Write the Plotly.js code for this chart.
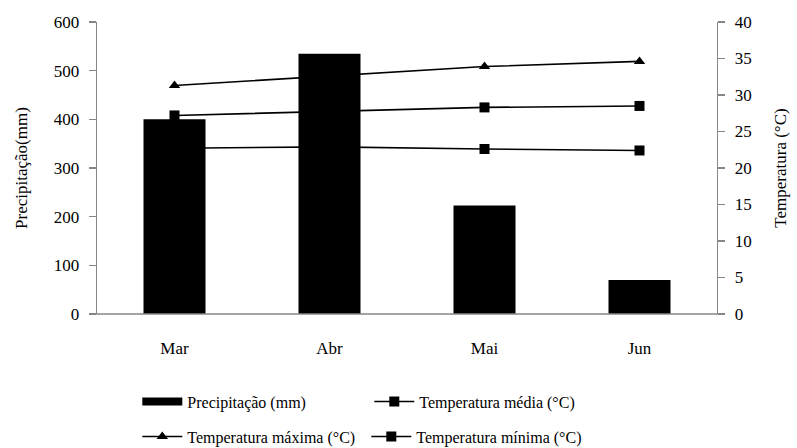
<!DOCTYPE html>
<html>
<head>
<meta charset="utf-8">
<script src="https://cdn.plot.ly/plotly-3.0.1.min.js"></script>
<style>html,body{margin:0;padding:0;background:#fff;}#chart{width:797px;height:448px;}</style>
</head>
<body>
<div id="chart"></div>
<script>
const months = ["Mar", "Abr", "Mai", "Jun"];
const precipitacao = [400, 535, 223, 70];
const tempMedia = [27.2, 27.7, 28.3, 28.5];
const tempMaxima = [31.3, 32.6, 33.9, 34.6];
const tempMinima = [22.7, 22.9, 22.6, 22.4];

const FONT = "Liberation Serif";
const AX = "#868686";

const traces = [
  {type: "bar", x: months, y: precipitacao, name: "Precipitação (mm)",
   marker: {color: "#000"}, width: 0.4, showlegend: false, yaxis: "y"},
  {type: "scatter", mode: "lines", x: [null], y: [null], name: "Precipitação (mm)",
   line: {color: "#000", width: 8}, legend: "legend", yaxis: "y"},
  {type: "scatter", mode: "lines+markers", x: months, y: tempMedia, name: "Temperatura média (°C)",
   yaxis: "y2", line: {color: "#000", width: 1.6}, marker: {symbol: "square", size: 10, color: "#000"}, legend: "legend"},
  {type: "scatter", mode: "lines+markers", x: months, y: tempMaxima, name: "Temperatura máxima (°C)",
   yaxis: "y2", line: {color: "#000", width: 1.6}, marker: {symbol: "triangle-up", size: 10, color: "#000"}, legend: "legend2"},
  {type: "scatter", mode: "lines+markers", x: months, y: tempMinima, name: "Temperatura mínima (°C)",
   yaxis: "y2", line: {color: "#000", width: 1.6}, marker: {symbol: "square", size: 10, color: "#000"}, legend: "legend2"}
];

const legendBase = {
  orientation: "h", xref: "paper", yref: "paper", xanchor: "left", yanchor: "middle",
  font: {family: FONT, size: 16, color: "#000"}, bgcolor: "rgba(0,0,0,0)",
  entrywidthmode: "pixels", itemwidth: 40, itemclick: false, itemdoubleclick: false
};

const layout = {
  width: 797, height: 448,
  margin: {l: 97, r: 80, t: 22, b: 134, autoexpand: false},
  paper_bgcolor: "#fff", plot_bgcolor: "#fff",
  font: {family: FONT, size: 17, color: "#000"},
  bargap: 0.6,
  xaxis: {
    type: "category", range: [-0.5, 3.5], showgrid: false, zeroline: false,
    showline: false, ticks: "", ticklabelstandoff: 22,
    tickfont: {family: FONT, size: 17, color: "#000"}, fixedrange: true
  },
  yaxis: {
    range: [0, 600], dtick: 100, showgrid: false, zeroline: false,
    showline: true, linecolor: AX, linewidth: 1.3, ticks: "outside", ticklen: 7, tickcolor: AX, tickwidth: 1.3,
    ticklabelstandoff: 6,
    tickfont: {family: FONT, size: 17, color: "#000"},
    title: {text: "Precipitação(mm)", font: {family: FONT, size: 17, color: "#000"}, standoff: 21},
    fixedrange: true
  },
  yaxis2: {
    range: [0, 40], dtick: 5, overlaying: "y", side: "right", showgrid: false, zeroline: false,
    showline: true, linecolor: AX, linewidth: 1.3, ticks: "outside", ticklen: 7, tickcolor: AX, tickwidth: 1.3,
    ticklabelstandoff: 6,
    tickfont: {family: FONT, size: 17, color: "#000"},
    title: {text: "Temperatura (°C)", font: {family: FONT, size: 17, color: "#000"}, standoff: 23},
    fixedrange: true
  },
  legend: Object.assign({}, legendBase, {x: 0.065, y: -0.30, entrywidth: 177}),
  legend2: Object.assign({}, legendBase, {x: 0.065, y: -0.42, entrywidth: 174}),
  shapes: [
    {type: "line", xref: "paper", yref: "paper", x0: -0.0113, x1: 1.0113, y0: 0, y1: 0,
     line: {color: AX, width: 1.3}}
  ],
  showlegend: true
};

Plotly.newPlot("chart", traces, layout, {displayModeBar: false, staticPlot: true});
</script>
</body>
</html>
